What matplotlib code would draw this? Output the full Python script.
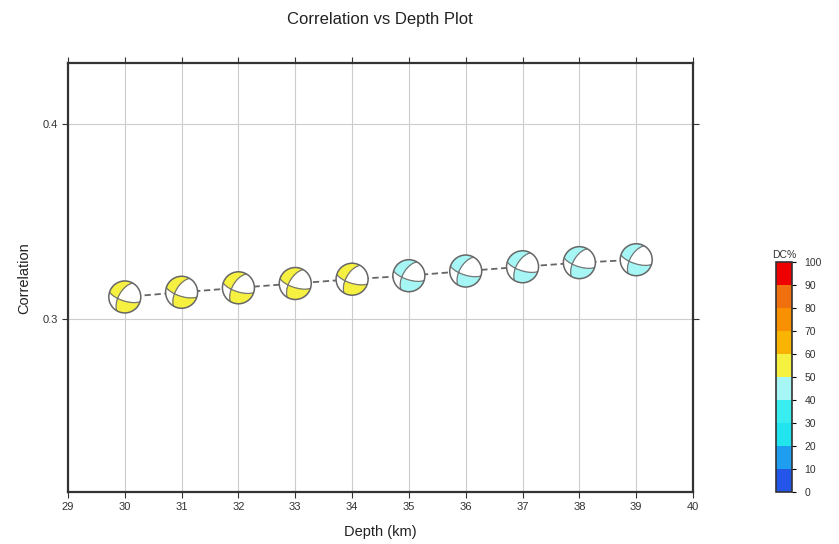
import numpy as np
import matplotlib
matplotlib.use('Agg')
import matplotlib.pyplot as plt
from matplotlib.transforms import ScaledTranslation
from matplotlib.patches import Circle
from matplotlib.colors import ListedColormap, BoundaryNorm

plt.rcParams['font.family'] = ['Liberation Sans', 'DejaVu Sans']

# data
depth = [30, 31, 32, 33, 34, 35, 36, 37, 38, 39]
corr = [0.3114, 0.3138, 0.3161, 0.3183, 0.3205, 0.3223, 0.3247, 0.3269, 0.3290, 0.3305]
dc = [55, 55, 54, 53, 52, 48, 47, 46, 45, 44]
strike = [210, 210, 210, 210, 210, 210, 210, 210, 210, 210]
dip = [60, 60, 60, 60, 60, 60, 60, 60, 60, 60]
rake = [-156, -156, -156, -156, -156, -156, -156, -156, -156, -156]

dc_bounds = [0, 10, 20, 30, 40, 50, 60, 70, 80, 90, 100]
dc_colors = ['#2355e8', '#1f9ef0', '#22e4ee', '#3aeef0', '#a6f6f6',
             '#f6f040', '#f8b400', '#f89000', '#f07010', '#ee0000']
cmap = ListedColormap(dc_colors)
norm = BoundaryNorm(dc_bounds, cmap.N)


def moment_tensor(s, d, r):
    s, d, r = np.radians([s, d, r])
    mxx = -(np.sin(d) * np.cos(r) * np.sin(2 * s) + np.sin(2 * d) * np.sin(r) * np.sin(s) ** 2)
    mxy = np.sin(d) * np.cos(r) * np.cos(2 * s) + 0.5 * np.sin(2 * d) * np.sin(r) * np.sin(2 * s)
    mxz = -(np.cos(d) * np.cos(r) * np.cos(s) + np.cos(2 * d) * np.sin(r) * np.sin(s))
    myy = np.sin(d) * np.cos(r) * np.sin(2 * s) - np.sin(2 * d) * np.sin(r) * np.cos(s) ** 2
    myz = -(np.cos(d) * np.cos(r) * np.sin(s) - np.cos(2 * d) * np.sin(r) * np.cos(s))
    mzz = np.sin(2 * d) * np.sin(r)
    return np.array([[mxx, mxy, mxz], [mxy, myy, myz], [mxz, myz, mzz]])


def polarity_grid(s, d, r, n=241):
    # lower hemisphere, equal area
    g = np.linspace(-1.03, 1.03, n)
    X, Y = np.meshgrid(g, g)
    R = np.clip(np.hypot(X, Y), 0, 1)
    inc = 2 * np.arcsin(R / np.sqrt(2))
    az = np.arctan2(X, Y)
    nv = np.stack([np.sin(inc) * np.cos(az), np.sin(inc) * np.sin(az), np.cos(inc)])
    M = moment_tensor(s, d, r)
    A = np.einsum('i...,ij,j...->...', nv, M, nv)
    return X, Y, A


fig = plt.figure(figsize=(8.39, 5.44), dpi=100)
ax = fig.add_axes([0.081, 0.0956, 0.745, 0.788])

ax.plot(depth, corr, ls='--', dashes=(3.5, 2), color='#666666', lw=1.3, zorder=2)

rad = 0.16  # inches
for x, y, s, d, r, p in zip(depth, corr, strike, dip, rake, dc):
    trans = fig.dpi_scale_trans + ScaledTranslation(x, y, ax.transData)
    X, Y, A = polarity_grid(s, d, r)
    col = cmap(norm(p))
    cs = ax.contourf(X * rad, Y * rad, A, levels=[-10, 0, 10], colors=['white', col],
                     transform=trans, zorder=3)
    clip = Circle((0, 0), rad, transform=trans)
    cs.set_clip_path(clip)
    cl = ax.contour(X * rad, Y * rad, A, levels=[0], colors='#777777', linewidths=0.9,
                    transform=trans, zorder=4)
    cl.set_clip_path(clip)
    ax.add_patch(Circle((0, 0), rad, transform=trans, fill=False, ec='#666666', lw=1.1, zorder=5))

ax.set_xlim(29, 40)
ax.set_ylim(0.2113, 0.4313)
ax.set_xticks(range(29, 41))
ax.set_yticks([0.3, 0.4])
ax.set_yticklabels(['0.3', '0.4'])
ax.grid(True, color='#cccccc', lw=0.8)
ax.set_axisbelow(True)
for sp in ax.spines.values():
    sp.set_linewidth(1.6)
    sp.set_color('#333333')
ax.tick_params(direction='out', length=4, width=0.8, color='#333333', labelsize=8,
               labelcolor='#333333', top=True, right=True)
ax.set_xlabel('Depth (km)', fontsize=10.5, color='#222222', labelpad=9)
ax.set_ylabel('Correlation', fontsize=10.5, color='#222222', labelpad=8)
fig.text(0.453, 0.965, 'Correlation vs Depth Plot', ha='center', va='center', fontsize=12,
         color='#222222')

cax = fig.add_axes([0.925, 0.0956, 0.019, 0.423])
cb = matplotlib.colorbar.ColorbarBase(cax, cmap=cmap, norm=norm, boundaries=dc_bounds,
                                      ticks=dc_bounds, orientation='vertical')
cb.outline.set_linewidth(1.2)
cb.outline.set_edgecolor('#333333')
cax.tick_params(labelsize=7.5, length=3, labelcolor='#333333', pad=6)
cax.set_title('DC%', fontsize=7.5, color='#333333', pad=3)

fig.savefig('out.png', dpi=100)
